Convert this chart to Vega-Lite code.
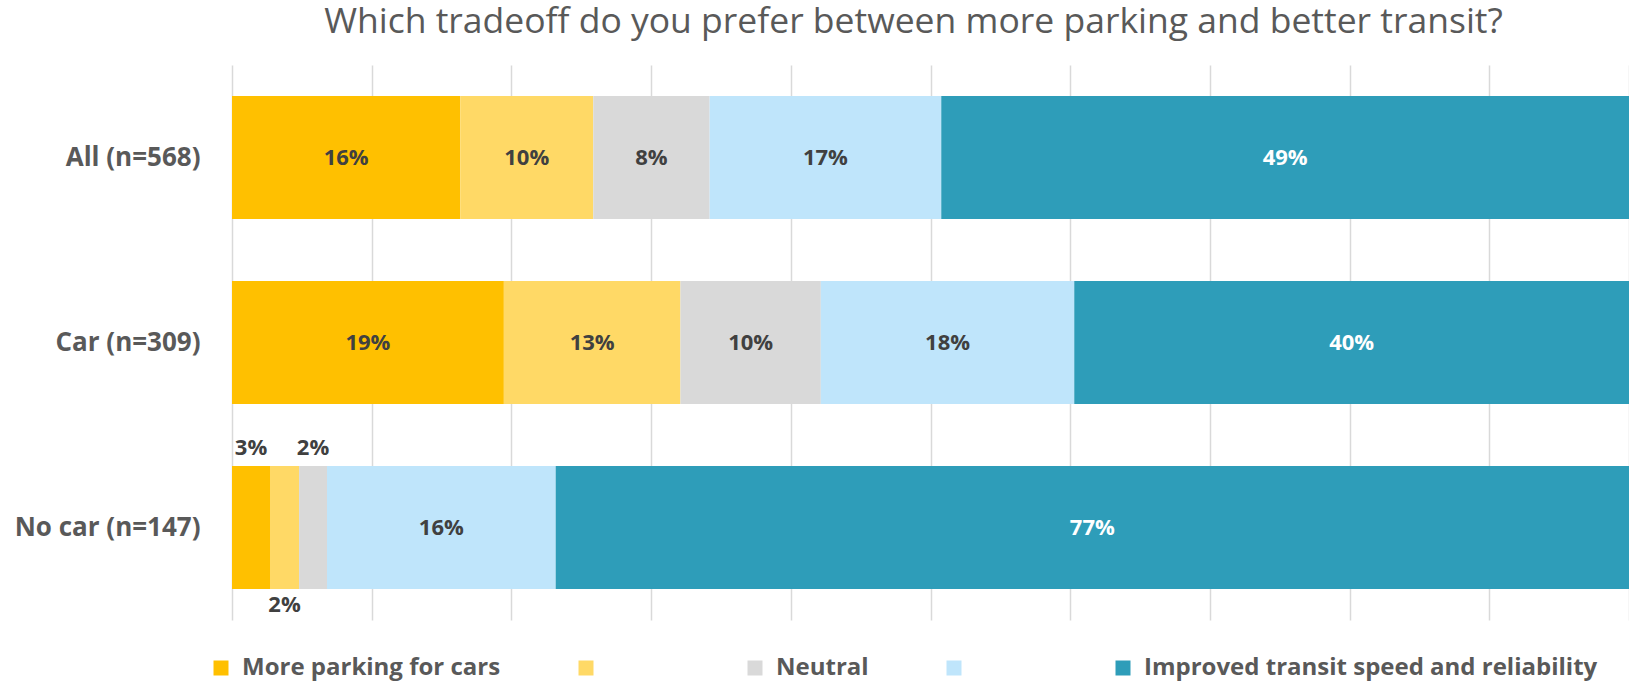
{
  "$schema": "https://vega.github.io/schema/vega-lite/v6.json",
  "width": 1397,
  "height": 555,
  "autosize": "none",
  "padding": {"left": 232, "top": 65, "right": 0, "bottom": 62},
  "title": {
    "text": "Which tradeoff do you prefer between more parking and better transit?",
    "font": "Open Sans",
    "fontSize": 35.5,
    "fontWeight": "normal",
    "color": "#595959",
    "anchor": "middle",
    "frame": "group",
    "baseline": "alphabetic",
    "offset": 0,
    "dy": 3,
    "dx": -17
  },
  "data": {
    "values": [
      {"group": "All (n=568)", "response": "More parking for cars", "idx": 1, "value": 0.1634},
      {"group": "All (n=568)", "response": "Lean parking", "idx": 2, "value": 0.0952},
      {"group": "All (n=568)", "response": "Neutral", "idx": 3, "value": 0.0833},
      {"group": "All (n=568)", "response": "Lean transit", "idx": 4, "value": 0.1658},
      {"group": "All (n=568)", "response": "Improved transit speed and reliability", "idx": 5, "value": 0.4923},
      {"group": "Car (n=309)", "response": "More parking for cars", "idx": 1, "value": 0.1946},
      {"group": "Car (n=309)", "response": "Lean parking", "idx": 2, "value": 0.1264},
      {"group": "Car (n=309)", "response": "Neutral", "idx": 3, "value": 0.1005},
      {"group": "Car (n=309)", "response": "Lean transit", "idx": 4, "value": 0.1814},
      {"group": "Car (n=309)", "response": "Improved transit speed and reliability", "idx": 5, "value": 0.3971},
      {"group": "No car (n=147)", "response": "More parking for cars", "idx": 1, "value": 0.0272},
      {"group": "No car (n=147)", "response": "Lean parking", "idx": 2, "value": 0.0208},
      {"group": "No car (n=147)", "response": "Neutral", "idx": 3, "value": 0.0200},
      {"group": "No car (n=147)", "response": "Lean transit", "idx": 4, "value": 0.1637},
      {"group": "No car (n=147)", "response": "Improved transit speed and reliability", "idx": 5, "value": 0.7683}
    ]
  },
  "encoding": {
    "y": {
      "field": "group",
      "type": "nominal",
      "sort": ["All (n=568)", "Car (n=309)", "No car (n=147)"],
      "scale": {"paddingInner": 0.335, "paddingOuter": 0.1675},
      "axis": {
        "title": null,
        "ticks": false,
        "domain": false,
        "grid": false,
        "labelPadding": 32,
        "labelFont": "Open Sans",
        "labelFontSize": 26,
        "labelFontWeight": "bold",
        "labelColor": "#595959",
        "labelLimit": 400
      }
    }
  },
  "layer": [
    {
      "mark": {"type": "bar", "strokeWidth": 0},
      "encoding": {
        "x": {
          "field": "value",
          "type": "quantitative",
          "stack": "zero",
          "scale": {"domain": [0, 1], "nice": false},
          "axis": {
            "title": null,
            "labels": false,
            "ticks": false,
            "domain": false,
            "grid": true,
            "values": [0, 0.1, 0.2, 0.3, 0.4, 0.5, 0.6, 0.7, 0.8, 0.9, 1.0],
            "gridColor": "#D9D9D9",
            "gridWidth": 1.5
          }
        },
        "color": {
          "field": "response",
          "type": "nominal",
          "scale": {
            "domain": ["More parking for cars", "Lean parking", "Neutral", "Lean transit", "Improved transit speed and reliability"],
            "range": ["#FFC000", "#FFD966", "#D9D9D9", "#BFE5FB", "#2E9DB9"]
          },
          "legend": {
            "title": null,
            "orient": "none",
            "legendX": -23,
            "legendY": 591,
            "direction": "horizontal",
            "columns": 5,
            "columnPadding": 73,
            "padding": 0,
            "symbolType": "square",
            "symbolSize": 225,
            "symbolStrokeWidth": 0,
            "labelFont": "Open Sans",
            "labelFontSize": 24,
            "labelFontWeight": "bold",
            "labelColor": "#595959",
            "labelOffset": 9,
            "labelLimit": 1000,
            "labelExpr": "datum.label == 'Lean parking' || datum.label == 'Lean transit' ? '\u200b\u00a0\u00a0\u00a0\u00a0\u00a0\u00a0\u00a0\u00a0\u00a0\u00a0\u200b' : datum.label"
          }
        },
        "order": {"field": "idx", "type": "quantitative"}
      }
    },
    {
      "mark": {"type": "text", "font": "Open Sans", "fontSize": 22, "fontWeight": "bold", "baseline": "middle", "align": "center"},
      "encoding": {
        "x": {"field": "value", "type": "quantitative", "stack": "zero", "bandPosition": 0.5},
        "detail": {"field": "response"},
        "order": {"field": "idx", "type": "quantitative"},
        "text": {
          "condition": {"test": "!(datum.group == 'No car (n=147)' && datum.idx <= 3)", "field": "value", "type": "quantitative", "format": ".0%"},
          "value": ""
        },
        "color": {"condition": {"test": "datum.idx == 5", "value": "#FFFFFF"}, "value": "#404040"}
      }
    },
    {
      "mark": {"type": "text", "font": "Open Sans", "fontSize": 22, "fontWeight": "bold", "baseline": "middle", "align": "center", "dy": -80, "color": "#404040"},
      "encoding": {
        "x": {"field": "value", "type": "quantitative", "stack": "zero", "bandPosition": 0.5},
        "detail": {"field": "response"},
        "order": {"field": "idx", "type": "quantitative"},
        "text": {
          "condition": {"test": "datum.group == 'No car (n=147)' && (datum.idx == 1 || datum.idx == 3)", "field": "value", "type": "quantitative", "format": ".0%"},
          "value": ""
        }
      }
    },
    {
      "mark": {"type": "text", "font": "Open Sans", "fontSize": 22, "fontWeight": "bold", "baseline": "middle", "align": "center", "dy": 77, "color": "#404040"},
      "encoding": {
        "x": {"field": "value", "type": "quantitative", "stack": "zero", "bandPosition": 0.5},
        "detail": {"field": "response"},
        "order": {"field": "idx", "type": "quantitative"},
        "text": {
          "condition": {"test": "datum.group == 'No car (n=147)' && datum.idx == 2", "field": "value", "type": "quantitative", "format": ".0%"},
          "value": ""
        }
      }
    }
  ],
  "config": {
    "view": {"stroke": null}
  }
}
